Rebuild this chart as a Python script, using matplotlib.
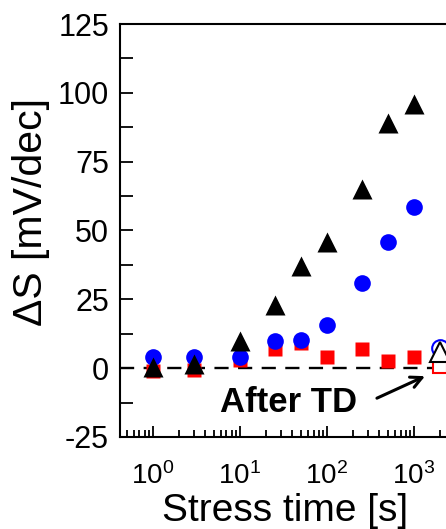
import numpy as np
import matplotlib
matplotlib.use("Agg")
import matplotlib.pyplot as plt
from matplotlib.ticker import LogLocator, MultipleLocator, NullFormatter

plt.rcParams['font.family'] = ['Liberation Sans', 'DejaVu Sans']
plt.rcParams['mathtext.fontset'] = 'custom'
plt.rcParams['mathtext.rm'] = 'Liberation Sans'
plt.rcParams['axes.unicode_minus'] = False

# stress times [s]
t = [1, 3, 10, 25, 50, 100, 250, 500, 1000]
# delta S [mV/dec]
tri_black = [0.5, 1.5, 10, 23, 37, 46, 65, 89, 96]
circ_blue = [3.9, 4.2, 4.2, 10, 10.3, 15.5, 31, 46, 58.4]
sq_red = [-1, -0.6, 3, 7.1, 9, 3.9, 7.1, 2.7, 3.9]

# after thermal detrapping
t_td = [2000]
tri_td = [5.8]
circ_td = [7.5]
sq_td = [0.8]

fig = plt.figure(figsize=(4.46, 5.29), dpi=100)
xmin, xmax = 0.418, 5000
px_dec = 87.0
ax_w = 153 + px_dec * np.log10(xmax) - 120
ax = fig.add_axes([120 / 446, 92 / 529, ax_w / 446, 413 / 529])

ax.axhline(0, color='black', ls=(0, (6, 4)), lw=1.7, zorder=1)
ax.plot(t, sq_red, 's', color='#ff0000', ms=10, mec='none', zorder=2)
ax.plot(t, circ_blue, 'o', color='#0000ff', ms=12, mec='none', zorder=3)
ax.plot(t, tri_black, '^', color='black', ms=14, mec='none', zorder=4)
ax.plot(t_td, sq_td, 's', mfc='white', mec='#ff0000', mew=1.5, ms=10, zorder=2)
ax.plot(t_td, circ_td, 'o', mfc='white', mec='#0000ff', mew=1.5, ms=12, zorder=3)
ax.plot(t_td, tri_td, '^', mfc='white', mec='black', mew=1.5, ms=14, zorder=4)

ax.text(36.6, -12.5, 'After TD', fontsize=25, fontweight='bold',
        ha='center', va='center')
ax.annotate('', xy=(1340, -2.9), xytext=(375, -10.9),
            arrowprops=dict(arrowstyle='->', lw=2.2, color='black',
                            shrinkA=0, shrinkB=0, mutation_scale=20))

ax.set_xscale('log')
ax.set_xlim(xmin, xmax)
ax.set_ylim(-25, 125)
ax.yaxis.set_major_locator(MultipleLocator(25))
ax.yaxis.set_minor_locator(MultipleLocator(12.5))
ax.xaxis.set_major_locator(LogLocator(base=10, numticks=10))
ax.xaxis.set_minor_locator(LogLocator(base=10, subs=np.arange(2, 10), numticks=20))
ax.xaxis.set_minor_formatter(NullFormatter())

ax.tick_params(which='both', direction='in', width=1.3, top=False, right=False)
ax.tick_params(axis='y', which='both', length=9, pad=8)
ax.tick_params(axis='x', which='major', length=8, pad=18)
ax.tick_params(axis='x', which='minor', length=5)
ax.tick_params(axis='y', labelsize=22)
ax.tick_params(axis='x', labelsize=20)
for s in ax.spines.values():
    s.set_linewidth(1.5)

ax.set_ylabel('ΔS [mV/dec]', fontsize=29.5, va='baseline')
ax.set_xlabel('Stress time [s]', fontsize=28, va='baseline')
ax.yaxis.set_label_coords(-0.22, 0.544)
ax.xaxis.set_label_coords(0.465, -0.203)

fig.savefig('out.png', dpi=100)
